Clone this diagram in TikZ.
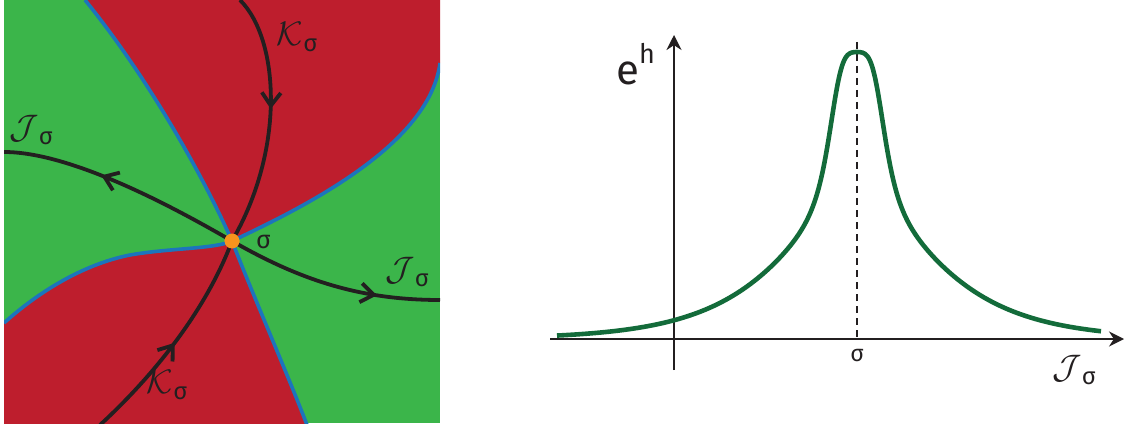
\documentclass[tikz,border=0pt]{standalone}
\usepackage{fontspec}
\setsansfont{Fira Sans}
\usetikzlibrary{arrows.meta, decorations.markings}
\definecolor{regred}{HTML}{BE1E2D}
\definecolor{reggreen}{HTML}{3BB54A}
\definecolor{sepblue}{HTML}{1C75BC}
\definecolor{flowblack}{HTML}{231F20}
\definecolor{saddleorange}{HTML}{F7941D}
\definecolor{peakgreen}{HTML}{136B3A}
\newcommand{\thimbleJ}{$\mathcal{J}$\textsubscript{σ}}
\newcommand{\thimbleK}{$\mathcal{K}$\textsubscript{σ}}

\begin{document}
\begin{tikzpicture}[x=1pt, y=-1pt,
    sep/.style={draw=sepblue, line width=3.6pt},
    flow/.style={draw=flowblack, line width=3.8pt, postaction={decorate}},
    barb/.tip={Straight Barb[length=13pt, width=19pt]},
    cal/.style={text=flowblack, font=\sffamily, scale=3.4, inner sep=0pt},
    greek/.style={text=flowblack, inner sep=0pt},
    axis/.style={draw=flowblack, line width=2.2pt, -{Stealth[length=15pt, width=15pt]}}]
  \useasboundingbox (0,0) rectangle (1125,425);

  % left panel: regions around the saddle
  \begin{scope}
    \clip (4,0) rectangle (440,423);
    \fill[reggreen] (4,0) rectangle (440,423);
    \node[circle, fill=saddleorange, minimum size=15pt, inner sep=0pt] (sp) at (232,241) {};
    \fill[regred] (85,0) .. controls (150,80) and (205,180) .. (sp.center)
      .. controls (320,200) and (430,140) .. (440,63) -- (440,0) -- cycle;
    \fill[regred] (4,323) .. controls (35,295) and (80,265) .. (130,255)
      .. controls (170,248) and (215,249) .. (sp.center)
      .. controls (255,300) and (290,380) .. (307,425) -- (0,425) -- cycle;
    \draw[sep] (85,0) .. controls (150,80) and (205,180) .. (sp.center)
      .. controls (255,300) and (290,380) .. (307,425);
    \draw[sep] (sp.center) .. controls (320,200) and (430,140) .. (440,63);
    \draw[sep] (4,323) .. controls (35,295) and (80,265) .. (130,255)
      .. controls (170,248) and (215,249) .. (sp.center);
    % flow lines
    \draw[flow, decoration={markings,
        mark=at position 0.24 with {\arrow{barb}},
        mark=at position 0.77 with {\arrowreversed{barb}}}]
      (240,0) .. controls (280,40) and (285,150) .. (sp.center)
      .. controls (210,300) and (165,365) .. (100,425);
    \draw[flow, decoration={markings,
        mark=at position 0.216 with {\arrowreversed{barb}},
        mark=at position 0.864 with {\arrow{barb}}}]
      (4,152) .. controls (70,152) and (170,205) .. (sp.center)
      .. controls (300,280) and (360,300) .. (440,300);
    \node[circle, fill=saddleorange, minimum size=15pt, inner sep=0pt] at (sp) {};
  \end{scope}
  \node[cal] (ktop) at (298,37) {\thimbleK};
  \node[cal] (kbot) at (168,385) {\thimbleK};
  \node[cal] (jleft) at (32,130) {\thimbleJ};
  \node[cal] (jright) at (408,272) {\thimbleJ};
  \node[greek, anchor=base west, font=\sffamily\fontsize{25}{28}\selectfont] (sig) at (256,248) {σ};

  % right panel: e^h along the thimble
  \coordinate (xl) at (550,339);
  \coordinate (xr) at (1124,339);
  \coordinate (yb) at (674,370);
  \coordinate (yt) at (674,35);
  \coordinate (ptop) at (857,42);
  \coordinate (pbot) at (857,339);
  \draw[axis] (xl) -- (xr);
  \draw[axis] (yb) -- (yt);
  \draw[flowblack, line width=1.8pt, dash pattern=on 7pt off 5pt] (ptop) -- (pbot);
  \draw[peakgreen, line width=4.6pt] plot[domain=-300:244, samples=220, smooth]
    (857+\x, {339 - 154/(1+((\x/28.5)*(\x/28.5))*((\x/28.5)*(\x/28.5))) - 133/cosh(0.0145*\x)});
  \node[anchor=base west, inner sep=0pt, text=flowblack,
        font=\sffamily\fontsize{42}{46}\selectfont] (eh) at (616,85)
        {e\raisebox{21pt}{\fontsize{27}{30}\selectfont h}};
  \node[greek, anchor=base, font=\sffamily\fontsize{23}{26}\selectfont] (sigx) at (857,361) {σ};
  \node[cal] (jaxis) at (1075,370) {\thimbleJ};
\end{tikzpicture}
\end{document}
